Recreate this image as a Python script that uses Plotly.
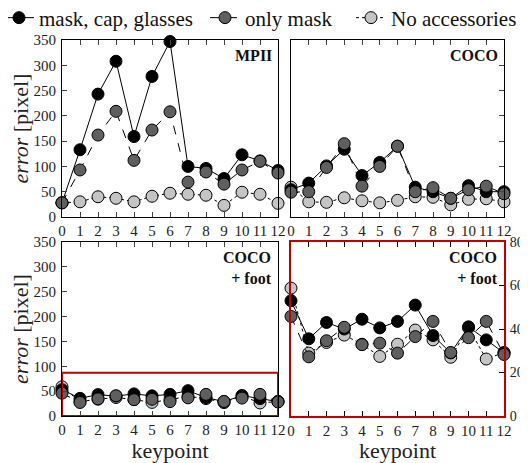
import plotly.graph_objects as go

keypoints = list(range(13))

mpii_full = [28, 133, 243, 308, 159, 278, 347, 100, 96, 76, 123, 111, 92]
mpii_mask = [28, 93, 162, 209, 112, 172, 208, 69, 89, 65, 93, 110, 87]
mpii_none = [28, 30, 40, 37, 30, 41, 47, 45, 43, 23, 49, 45, 27]

coco_full = [54, 67, 101, 134, 82, 108, 140, 59, 50, 37, 62, 50, 50]
coco_mask = [49, 50, 98, 145, 61, 100, 140, 50, 58, 37, 54, 61, 46]
coco_none = [59, 30, 29, 38, 32, 28, 33, 40, 39, 24, 35, 36, 30]

foot_full = [53, 35.5, 43, 40, 44.5, 40.5, 43.5, 51, 37, 29, 41, 35, 29]
foot_mask = [45.8, 27.2, 34.6, 40.8, 32.8, 33.5, 28.9, 36.5, 43.5, 29.2, 36, 43.5, 28.3]
foot_none = [58.8, 28.9, 33.8, 37.2, 33, 27.4, 33, 39.5, 35, 27, 40.6, 26.2, 29.2]

series_names = ["mask, cap, glasses", "only mask", "No accessories"]
panel_labels = [["MPII"], ["COCO"], ["COCO", "+ foot"], ["COCO", "+ foot"]]
y_ticks_main = [0, 50, 100, 150, 200, 250, 300, 350]
y_ticks_zoom = [0, 20, 40, 60, 80]

FONT = "Liberation Serif, Times New Roman, serif"
fill = ["#000000", "#5f5f5f", "#c4c4c4"]
dash = ["solid", "dash", "dot"]
legend_ids = ["legend", "legend2", "legend3"]

# page offset (body margin) and figure size
OFF = 8
W, H = 528 - OFF, 463 - OFF


def px(xp):
    return (xp - OFF) / W


def py(yp):
    return 1 - (yp - OFF) / H


panels = [
    (mpii_full, mpii_mask, mpii_none),
    (coco_full, coco_mask, coco_none),
    (foot_full, foot_mask, foot_none),
    (foot_full, foot_mask, foot_none),
]

fig = go.Figure()
order = [2, 0, 1]  # draw light first, dark last
for p, data in enumerate(panels):
    xa = "x" if p == 0 else f"x{p+1}"
    ya = "y" if p == 0 else f"y{p+1}"
    for s in order:
        fig.add_trace(go.Scatter(
            x=keypoints, y=data[s], xaxis=xa, yaxis=ya,
            mode="lines+markers", name=series_names[s],
            legend=legend_ids[s], showlegend=(p == 0),
            cliponaxis=False,
            line=dict(color="black", width=1, dash=dash[s]),
            marker=dict(size=12, color=fill[s], line=dict(color="black", width=1)),
        ))

xd = [[px(62), px(278)], [px(291), px(504)]]
yd_top = [py(217), py(40)]
yd_bot = [py(416), py(242)]

tickfont = dict(family=FONT, size=15, color="#222")
common_x = dict(range=[0, 12], tickvals=keypoints, ticks="inside", ticklen=5,
                showgrid=False, zeroline=False, showline=True, linecolor="black",
                linewidth=1, mirror="allticks", tickfont=tickfont, ticklabelstandoff=0)
common_y = dict(showgrid=False, zeroline=False, showline=True, linecolor="black",
                linewidth=1, mirror=True, ticks="inside", ticklen=5, tickfont=tickfont,
                ticklabelstandoff=2)

title_font = dict(family=FONT, size=22, color="#222")
legend_font = dict(family=FONT, size=21, color="#111")
text_starts = [45, 251, 397]
legends = {}
for i, lid in enumerate(legend_ids):
    legends[lid] = dict(orientation="h", x=(text_starts[i] - 46 - OFF) / W, y=py(18),
                        xanchor="left", yanchor="middle", font=legend_font,
                        itemwidth=30, bgcolor="rgba(0,0,0,0)")

fig.update_layout(
    width=W, height=H, margin=dict(l=0, r=0, t=0, b=0, autoexpand=False),
    paper_bgcolor="white", plot_bgcolor="white", showlegend=True,
    **legends,
    xaxis=dict(domain=xd[0], anchor="y", **common_x),
    yaxis=dict(domain=yd_top, anchor="x", range=[0, 350], tickvals=y_ticks_main,
               title=dict(text="<i>error</i> [pixel]", font=title_font, standoff=6), **common_y),
    xaxis2=dict(domain=xd[1], anchor="y2", **common_x),
    yaxis2=dict(domain=yd_top, anchor="x2", range=[0, 350], tickvals=y_ticks_main,
                side="right", showticklabels=False, **common_y),
    xaxis3=dict(domain=xd[0], anchor="y3",
                title=dict(text="keypoint", font=title_font, standoff=0), **common_x),
    yaxis3=dict(domain=yd_bot, anchor="x3", range=[0, 350], tickvals=y_ticks_main,
                title=dict(text="<i>error</i> [pixel]", font=title_font, standoff=6), **common_y),
    xaxis4=dict(domain=xd[1], anchor="y4",
                title=dict(text="keypoint", font=title_font, standoff=0),
                **{**common_x, "linecolor": "#c00000", "linewidth": 2, "tickcolor": "black"}),
    yaxis4=dict(domain=yd_bot, anchor="x4", range=[0, 80], tickvals=y_ticks_zoom, side="right",
                **{**common_y, "linecolor": "#c00000", "linewidth": 2, "tickcolor": "black",
                   "tickfont": dict(family=FONT, size=14, color="#222"),
                   "ticklabelstandoff": 1}),
)

fig.add_shape(type="rect", xref="x3", yref="y3", x0=0, x1=12, y0=0, y1=87,
              line=dict(color="#c00000", width=2), fillcolor="rgba(0,0,0,0)")

for p, lab in enumerate(panel_labels):
    xr = "x domain" if p == 0 else f"x{p+1} domain"
    yr = "y domain" if p == 0 else f"y{p+1} domain"
    txt = "<br>".join(f"<b>{t}</b>" for t in lab)
    fig.add_annotation(text=txt, xref=xr, yref=yr, x=0.98, y=0.97,
                       xanchor="right", yanchor="top", align="right", showarrow=False,
                       font=dict(family=FONT, size=16, color="#111"))

fig.write_html("out.html")
